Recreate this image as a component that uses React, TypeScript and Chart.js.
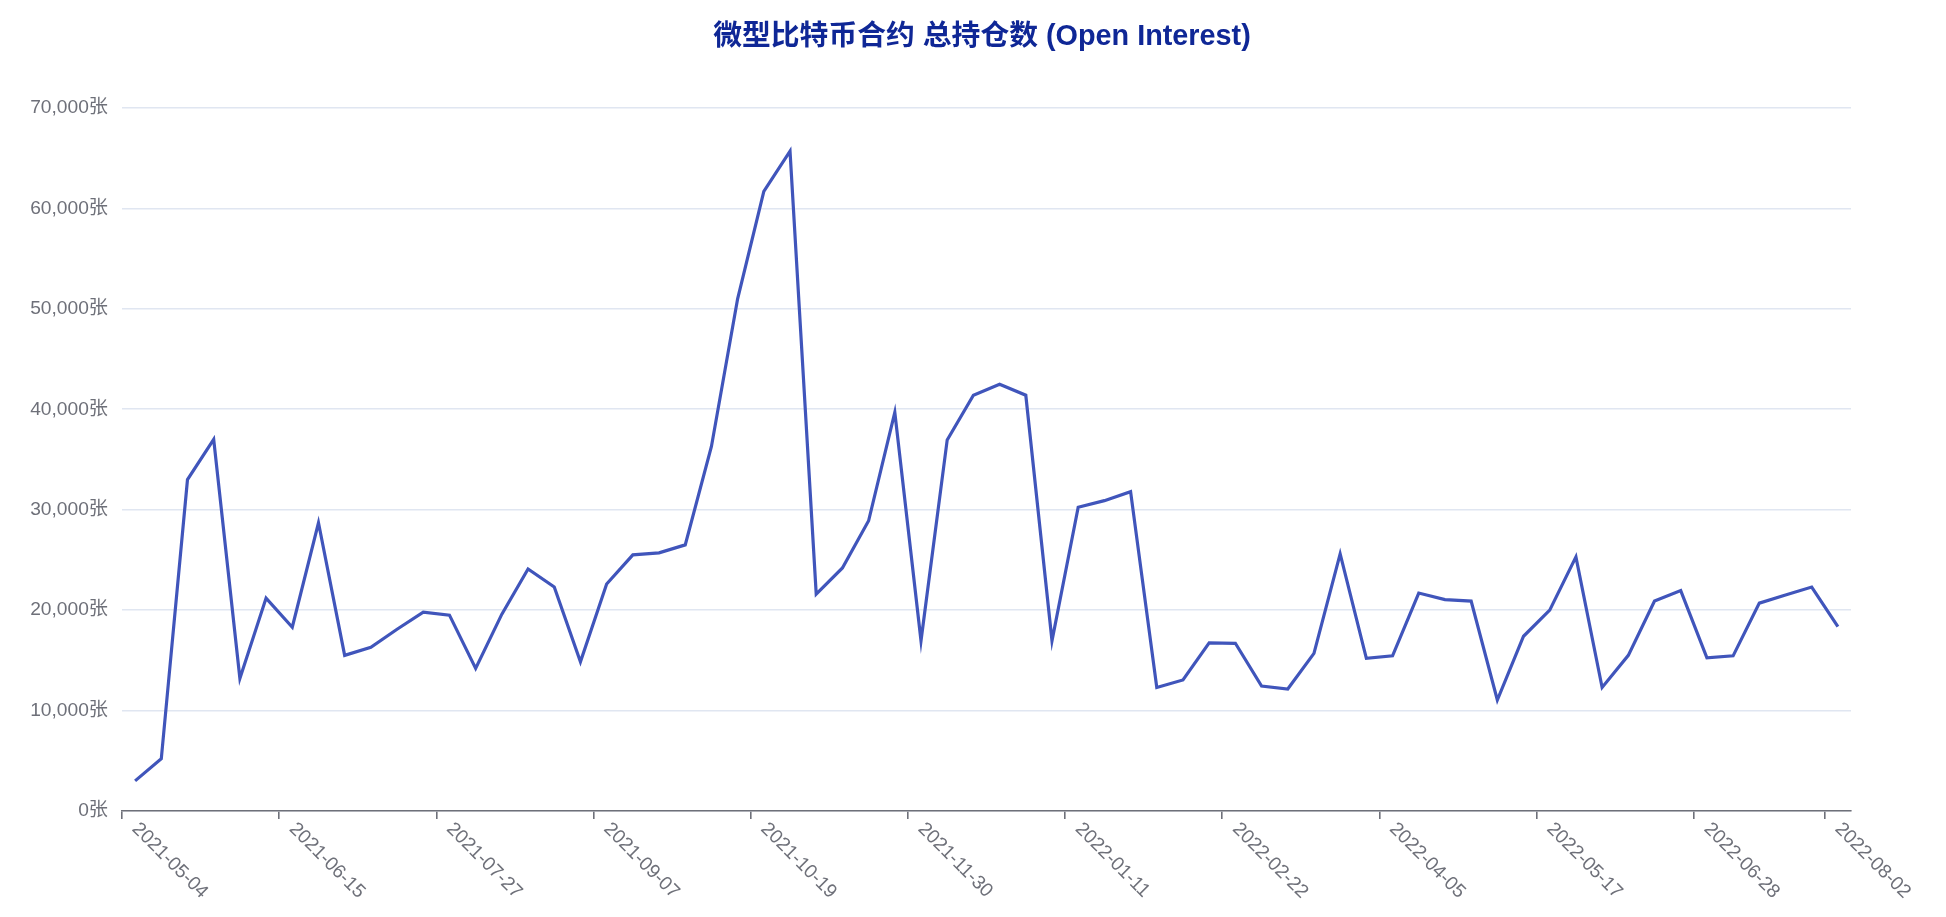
import React, { useEffect, useRef } from "react";
import { Chart, registerables } from "chart.js";

Chart.register(...registerables);

const chartTitle = "微型比特币合约 总持仓数 (Open Interest)";
const unitSuffix = "张";

const categories = [
  "2021-05-04", "2021-05-11", "2021-05-18", "2021-05-25", "2021-06-01", "2021-06-08",
  "2021-06-15", "2021-06-22", "2021-06-29", "2021-07-06", "2021-07-13", "2021-07-20",
  "2021-07-27", "2021-08-03", "2021-08-10", "2021-08-17", "2021-08-24", "2021-08-31",
  "2021-09-07", "2021-09-14", "2021-09-21", "2021-09-28", "2021-10-05", "2021-10-12",
  "2021-10-19", "2021-10-26", "2021-11-02", "2021-11-09", "2021-11-16", "2021-11-23",
  "2021-11-30", "2021-12-07", "2021-12-14", "2021-12-21", "2021-12-28", "2022-01-04",
  "2022-01-11", "2022-01-18", "2022-01-25", "2022-02-01", "2022-02-08", "2022-02-15",
  "2022-02-22", "2022-03-01", "2022-03-08", "2022-03-15", "2022-03-22", "2022-03-29",
  "2022-04-05", "2022-04-12", "2022-04-19", "2022-04-26", "2022-05-03", "2022-05-10",
  "2022-05-17", "2022-05-24", "2022-05-31", "2022-06-07", "2022-06-14", "2022-06-21",
  "2022-06-28", "2022-07-05", "2022-07-12", "2022-07-19", "2022-07-26", "2022-08-02",
];

const openInterest = [
  3000, 5200, 33000, 37000, 13200, 21200, 18300, 28700, 15500, 16300,
  18100, 19800, 19500, 14200, 19600, 24100, 22300, 14850, 22600, 25500,
  25700, 26500, 36300, 51000, 61700, 65700, 21600, 24200, 28900, 39700,
  16950, 36950, 41400, 42500, 41400, 16950, 30250, 30900, 31800, 12300,
  13050, 16750, 16700, 12450, 12150, 15700, 25600, 15200, 15450, 21700,
  21050, 20900, 11050, 17400, 20000, 25300, 12300, 15500, 20900, 21950,
  15250, 15450, 20700, 21500, 22300, 18350,
];

const yMin = 0;
const yMax = 70000;
const yStep = 10000;

const LABEL_EVERY = 6;
const FONT_FAMILY = '"Liberation Sans", "Noto Sans CJK SC", Arial, sans-serif';
const AXIS_COLOR = "#6E7079";

const isShownIndex = (i: number) =>
  i % LABEL_EVERY === 0 || i === categories.length - 1 || i === categories.length;

const decorPlugin = {
  id: "decor",
  afterDraw(chart: any) {
    const xs = chart.scales.x;
    const ctx = chart.ctx;
    ctx.save();
    // title
    ctx.font = `bold 28.8px ${FONT_FAMILY}`;
    ctx.fillStyle = "#0f2796";
    ctx.textAlign = "center";
    ctx.textBaseline = "middle";
    ctx.fillText(chartTitle, 982, 37);
    // rotated x labels
    ctx.font = `19.2px ${FONT_FAMILY}`;
    ctx.fillStyle = AXIS_COLOR;
    ctx.textAlign = "left";
    ctx.textBaseline = "middle";
    categories.forEach((label, i) => {
      if (!(i % LABEL_EVERY === 0 || i === categories.length - 1)) return;
      const x = xs.getPixelForValue(i);
      const y = xs.top + 15;
      ctx.save();
      ctx.translate(x, y);
      ctx.rotate(Math.PI / 4);
      ctx.fillText(label, 0, 0);
      ctx.restore();
    });
    ctx.restore();
  },
};

export default function App() {
  const canvasRef = useRef<HTMLCanvasElement | null>(null);

  useEffect(() => {
    if (!canvasRef.current) return;
    const chart = new Chart(canvasRef.current, {
      type: "line",
      data: {
        labels: categories,
        datasets: [
          {
            label: "Open Interest",
            data: openInterest,
            borderColor: "#4055bb",
            backgroundColor: "#4055bb",
            borderWidth: 3.2,
            pointRadius: 0,
            pointHoverRadius: 0,
            tension: 0,
            fill: false,
          },
        ],
      },
      options: {
        animation: false,
        responsive: true,
        maintainAspectRatio: false,
        devicePixelRatio: 1,
        layout: { padding: { left: 0, right: 95, top: 108, bottom: 98 } },
        plugins: {
          legend: { display: false },
          tooltip: { enabled: false },
          title: { display: false },
        },
        scales: {
          x: {
            type: "category",
            offset: true,
            grid: {
              display: true,
              drawOnChartArea: false,
              drawTicks: true,
              tickLength: 8,
              offset: true,
              lineWidth: 1.6,
              color: (c: any) => (isShownIndex(c.index) ? AXIS_COLOR : "rgba(0,0,0,0)"),
              tickColor: (c: any) => (isShownIndex(c.index) ? AXIS_COLOR : "rgba(0,0,0,0)"),
            },
            border: { display: true, color: AXIS_COLOR, width: 1.6 },
            ticks: { display: false, autoSkip: false },
          },
          y: {
            min: yMin,
            max: yMax,
            afterFit: (scale: any) => {
              scale.width = 122;
            },
            ticks: {
              stepSize: yStep,
              padding: 14,
              color: AXIS_COLOR,
              font: { family: FONT_FAMILY, size: 19.2 },
              callback: (v: any) => Number(v).toLocaleString("en-US") + unitSuffix,
            },
            grid: {
              color: "#E0E6F1",
              lineWidth: 1.6,
              drawTicks: false,
            },
            border: { display: false },
          },
        },
      },
      plugins: [decorPlugin],
    });
    return () => chart.destroy();
  }, []);

  return (
    <div style={{ position: "fixed", left: 0, top: 0, width: 1946, height: 917, background: "#fff" }}>
      <canvas ref={canvasRef} style={{ width: "100%", height: "100%" }} />
    </div>
  );
}
